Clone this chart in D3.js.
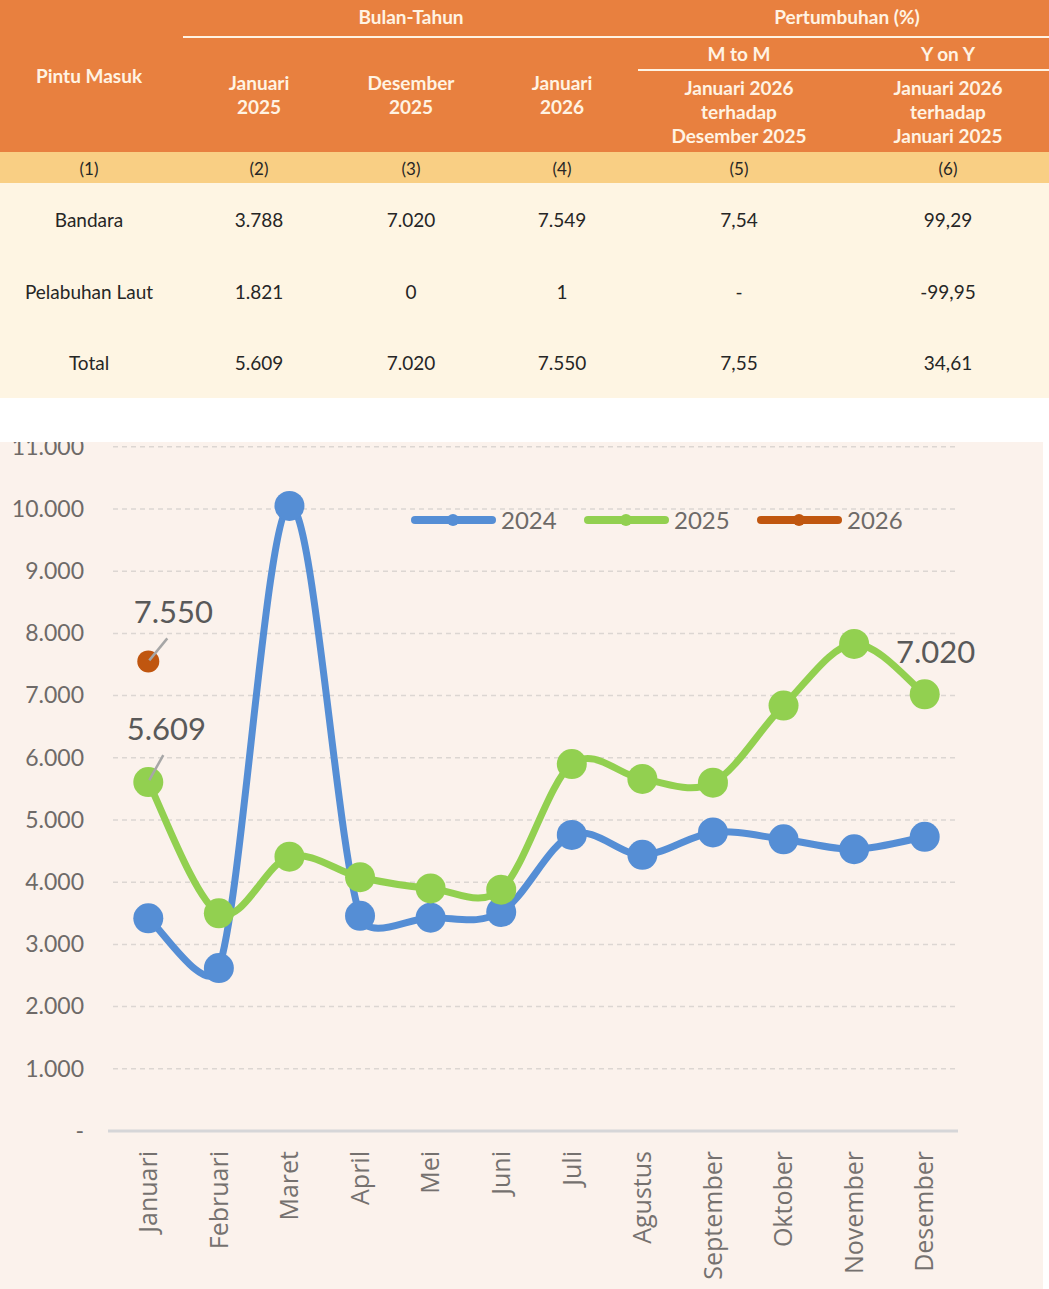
<!DOCTYPE html>
<html>
<head>
<meta charset="utf-8">
<script src="https://cdn.jsdelivr.net/npm/d3@7"></script>
<style>
  html, body { margin: 0; padding: 0; background: #ffffff; }
  svg { display: block; }
</style>
</head>
<body>
<svg id="page" width="1049" height="1289"></svg>
<script>
// ---------- DATA ----------
const tableHeaderCols = ["(1)", "(2)", "(3)", "(4)", "(5)", "(6)"];
const tableRowNames = ["Bandara", "Pelabuhan Laut", "Total"];
const colJan2025 = ["3.788", "1.821", "5.609"];
const colDes2025 = ["7.020", "0", "7.020"];
const colJan2026 = ["7.549", "1", "7.550"];
const colMtoM = ["7,54", "-", "7,55"];
const colYonY = ["99,29", "-99,95", "34,61"];

const months = ["Januari", "Februari", "Maret", "April", "Mei", "Juni", "Juli", "Agustus", "September", "Oktober", "November", "Desember"];
const values2024 = [3420, 2620, 10050, 3460, 3430, 3520, 4760, 4440, 4800, 4690, 4530, 4730];
const values2025 = [5609, 3500, 4410, 4080, 3900, 3880, 5900, 5660, 5600, 6840, 7830, 7020];
const values2026 = [7550];
const yTicks = [0, 1000, 2000, 3000, 4000, 5000, 6000, 7000, 8000, 9000, 10000, 11000];
const seriesNames = ["2024", "2025", "2026"];

// ---------- TABLE ----------
const svg = d3.select("#page");
const W = 1049;
const orange = "#E8803F", band = "#F9CF84", cream = "#FEF5E3", headText = "#FFF3E3";
const colX = [89, 259, 411, 562, 739, 948];

svg.append("rect").attr("x", 0).attr("y", 0).attr("width", W).attr("height", 152).attr("fill", orange);
svg.append("rect").attr("x", 0).attr("y", 152).attr("width", W).attr("height", 31).attr("fill", band);
svg.append("rect").attr("x", 0).attr("y", 183).attr("width", W).attr("height", 215).attr("fill", cream);

svg.append("line").attr("x1", 183).attr("x2", W).attr("y1", 37).attr("y2", 37).attr("stroke", headText).attr("stroke-width", 2);
svg.append("line").attr("x1", 638).attr("x2", W).attr("y1", 70).attr("y2", 70).attr("stroke", headText).attr("stroke-width", 2);

const headG = svg.append("g").attr("font-family", "Lato, sans-serif").attr("font-weight", "bold")
  .attr("font-size", 19).attr("fill", headText).attr("text-anchor", "middle");
function headText2(x, y, lines) {
  const t = headG.append("text").attr("x", x).attr("y", y);
  lines.forEach((l, i) => t.append("tspan").attr("x", x).attr("dy", i === 0 ? 0 : 24).text(l));
}
headText2(411, 24, ["Bulan-Tahun"]);
headText2(847, 24, ["Pertumbuhan (%)"]);
headText2(89, 83, ["Pintu Masuk"]);
headText2(259, 90, ["Januari", "2025"]);
headText2(411, 90, ["Desember", "2025"]);
headText2(562, 90, ["Januari", "2026"]);
headText2(739, 61, ["M to M"]);
headText2(948, 61, ["Y on Y"]);
headText2(739, 95, ["Januari 2026", "terhadap", "Desember 2025"]);
headText2(948, 95, ["Januari 2026", "terhadap", "Januari 2025"]);

const bodyG = svg.append("g").attr("font-family", "Lato, sans-serif").attr("font-size", 19)
  .attr("fill", "#262626").attr("text-anchor", "middle");
tableHeaderCols.forEach((c, i) => bodyG.append("text").attr("x", colX[i]).attr("y", 175).attr("font-size", 17).text(c));
const rowY = [227, 299, 370];
const cols = [tableRowNames, colJan2025, colDes2025, colJan2026, colMtoM, colYonY];
cols.forEach((col, ci) => col.forEach((v, ri) => {
  bodyG.append("text").attr("x", colX[ci]).attr("y", rowY[ri]).text(v);
}));

// ---------- CHART ----------
const chartTop = 442, chartW = 1043;
const chart = svg.append("g").attr("transform", `translate(0,${chartTop})`);
svg.append("defs").append("clipPath").attr("id", "chartClip")
  .append("rect").attr("x", 0).attr("y", 0).attr("width", chartW).attr("height", 1289 - chartTop);
chart.attr("clip-path", "url(#chartClip)");
chart.append("rect").attr("x", 0).attr("y", 0).attr("width", chartW).attr("height", 1289 - chartTop).attr("fill", "#FBF2EC");

const x = d3.scaleBand().domain(months).range([113, 960]);
const y = d3.scaleLinear().domain([0, 10000]).range([1131 - chartTop, 509 - chartTop]);
const cx = m => x(m) + x.bandwidth() / 2;

// gridlines
chart.append("g").selectAll("line").data(yTicks.filter(d => d > 0)).join("line")
  .attr("x1", 113).attr("x2", 958).attr("y1", d => y(d)).attr("y2", d => y(d))
  .attr("stroke", "#DCD6D2").attr("stroke-width", 1.5).attr("stroke-dasharray", "5,4");

// y axis
const yAxis = d3.axisLeft(y).tickValues(yTicks).tickSize(0).tickPadding(0)
  .tickFormat(d => d === 0 ? "-" : d3.format(",")(d).replace(/,/g, "."));
const yAxG = chart.append("g").attr("transform", "translate(84,0)").call(yAxis);
yAxG.select(".domain").remove();
yAxG.selectAll("text").attr("font-family", "Lato, sans-serif").attr("font-size", 23).attr("fill", "#6E6A68");

// x axis
const xAxis = d3.axisBottom(x).tickSize(0).tickPadding(0);
const xAxG = chart.append("g").attr("transform", `translate(0,${y(0)})`).call(xAxis);
xAxG.select(".domain").remove();
chart.append("line").attr("x1", 108).attr("x2", 958).attr("y1", y(0)).attr("y2", y(0))
  .attr("stroke", "#D6D6D8").attr("stroke-width", 3);
xAxG.selectAll("text")
  .attr("font-family", "'Open Sans', sans-serif").attr("font-size", 25).attr("fill", "#75716F")
  .attr("text-anchor", "end").attr("transform", "translate(0,20) rotate(-90)")
  .attr("x", 0).attr("y", 0).attr("dy", "0.35em");

// Excel-like smoothed curve: Catmull-Rom tangents, limited relative to segment length
function ExcelSmooth(context) { this._context = context; }
ExcelSmooth.prototype = {
  areaStart() { this._line = 0; }, areaEnd() { this._line = NaN; },
  lineStart() { this._pts = []; },
  point(px, py) { this._pts.push([+px, +py]); },
  lineEnd() {
    const p = this._pts, c = this._context, n = p.length, k = 0.4;
    if (!n) return;
    c.moveTo(p[0][0], p[0][1]);
    const lim = (t, d) => { const L = Math.hypot(t[0], t[1]); if (L > k * d && L > 0) { const s = k * d / L; return [t[0] * s, t[1] * s]; } return t; };
    for (let i = 0; i < n - 1; i++) {
      const P0 = p[i - 1] || p[i], P1 = p[i], P2 = p[i + 1], P3 = p[i + 2] || p[i + 1];
      const d12 = Math.hypot(P2[0] - P1[0], P2[1] - P1[1]);
      const t1 = lim([(P2[0] - P0[0]) / 6, (P2[1] - P0[1]) / 6], d12);
      const t2 = lim([(P3[0] - P1[0]) / 6, (P3[1] - P1[1]) / 6], d12);
      c.bezierCurveTo(P1[0] + t1[0], P1[1] + t1[1], P2[0] - t2[0], P2[1] - t2[1], P2[0], P2[1]);
    }
  }
};
const excelCurve = ctx => new ExcelSmooth(ctx);

// lines
const line = d3.line().x((d, i) => cx(months[i])).y(d => y(d)).curve(excelCurve);
const blue = "#558ED5", green = "#92D050", brown = "#C0560F";
chart.append("path").datum(values2024).attr("d", line).attr("fill", "none").attr("stroke", blue).attr("stroke-width", 7).attr("stroke-linecap", "round");
chart.append("g").selectAll("circle").data(values2024).join("circle")
  .attr("cx", (d, i) => cx(months[i])).attr("cy", d => y(d)).attr("r", 15).attr("fill", blue);
chart.append("path").datum(values2025).attr("d", line).attr("fill", "none").attr("stroke", green).attr("stroke-width", 7).attr("stroke-linecap", "round");
chart.append("g").selectAll("circle").data(values2025).join("circle")
  .attr("cx", (d, i) => cx(months[i])).attr("cy", d => y(d)).attr("r", 15).attr("fill", green);
chart.append("g").selectAll("circle").data(values2026).join("circle")
  .attr("cx", (d, i) => cx(months[i])).attr("cy", d => y(d)).attr("r", 11).attr("fill", brown);

// data labels
const fmt = v => d3.format(",")(v).replace(/,/g, ".");
const labG = chart.append("g").attr("font-family", "Lato, sans-serif").attr("font-size", 31).attr("fill", "#595959");
function leader(x0, y0, dx, dy) {
  chart.append("line").attr("x1", x0).attr("y1", y0).attr("x2", x0 + dx).attr("y2", y0 + dy)
    .attr("stroke", "#A6A6A6").attr("stroke-width", 2.5);
}
// 2026 Januari
leader(cx(months[0]) + 1, y(values2026[0]) - 1, 18, -22);
labG.append("text").attr("x", cx(months[0]) + 25).attr("y", y(values2026[0]) - 38).attr("text-anchor", "middle").text(fmt(values2026[0]));
// 2025 Januari
leader(cx(months[0]) + 1, y(values2025[0]) - 2, 14, -25);
labG.append("text").attr("x", cx(months[0]) + 18).attr("y", y(values2025[0]) - 42).attr("text-anchor", "middle").text(fmt(values2025[0]));
// 2025 Desember
labG.append("text").attr("x", cx(months[11]) + 11).attr("y", y(values2025[11]) - 31).attr("text-anchor", "middle").text(fmt(values2025[11]));

// legend
const legY = 520 - chartTop;
const legItems = [{n: seriesNames[0], c: blue, x: 415}, {n: seriesNames[1], c: green, x: 588}, {n: seriesNames[2], c: brown, x: 761}];
const legG = chart.append("g");
legItems.forEach(it => {
  legG.append("line").attr("x1", it.x).attr("x2", it.x + 77).attr("y1", legY).attr("y2", legY)
    .attr("stroke", it.c).attr("stroke-width", 8).attr("stroke-linecap", "round");
  legG.append("circle").attr("cx", it.x + 38).attr("cy", legY).attr("r", 6).attr("fill", it.c);
  legG.append("text").attr("x", it.x + 86).attr("y", legY).attr("dy", "0.36em")
    .attr("font-family", "Lato, sans-serif").attr("font-size", 24).attr("fill", "#6E6A68").text(it.n);
});
</script>
</body>
</html>
